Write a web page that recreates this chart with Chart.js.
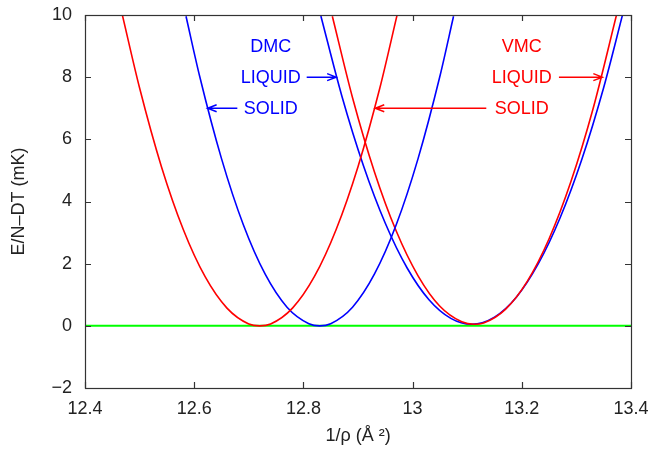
<!DOCTYPE html>
<html>
<head>
<meta charset="utf-8">
<script src="https://cdn.jsdelivr.net/npm/chart.js@4.4.1/dist/chart.umd.min.js"></script>
<style>
  html, body { margin: 0; padding: 0; background: #ffffff; }
  #wrap { width: 653px; height: 449px; position: relative; }
</style>
</head>
<body>
<div id="wrap"><canvas id="c" width="653" height="449"></canvas></div>
<script>
// ---- data ----
const vmcSolidX = [12.468, 12.50, 12.54, 12.58, 12.62, 12.66, 12.70, 12.72, 12.74, 12.78, 12.82, 12.86, 12.90, 12.94, 12.972];
const vmcSolidY = [10.03, 7.65, 5.12, 3.10, 1.58, 0.57, 0.06, 0.00, 0.06, 0.57, 1.58, 3.10, 5.12, 7.65, 10.03];

const dmcSolidX = [12.585, 12.61, 12.65, 12.69, 12.73, 12.77, 12.81, 12.83, 12.85, 12.89, 12.93, 12.97, 13.01, 13.05, 13.075];
const dmcSolidY = [9.96, 8.03, 5.38, 3.25, 1.66, 0.60, 0.07, 0.00, 0.07, 0.60, 1.66, 3.25, 5.38, 8.03, 9.96];

const vmcLiquidX = [12.853, 12.89, 12.93, 12.97, 13.01, 13.05, 13.09, 13.113, 13.13, 13.17, 13.21, 13.25, 13.29, 13.33, 13.375];
const vmcLiquidY = [9.96, 7.34, 4.96, 3.05, 1.61, 0.63, 0.13, 0.05, 0.09, 0.53, 1.43, 2.80, 4.64, 6.95, 10.11];

const dmcLiquidX = [12.832, 12.87, 12.91, 12.95, 12.99, 13.03, 13.07, 13.108, 13.15, 13.19, 13.23, 13.27, 13.31, 13.35, 13.385];
const dmcLiquidY = [9.97, 7.42, 5.15, 3.30, 1.86, 0.84, 0.24, 0.05, 0.28, 0.92, 1.99, 3.47, 5.36, 7.67, 10.04];

const zeroLineX = [12.4, 13.4];
const zeroLineY = [0, 0];

const xTickValues = [12.4, 12.6, 12.8, 13.0, 13.2, 13.4];
const yTickValues = [-2, 0, 2, 4, 6, 8, 10];

const labelTexts = ['DMC', 'LIQUID', 'SOLID', 'VMC', 'LIQUID', 'SOLID'];
const labelX = [12.74, 12.74, 12.74, 13.2, 13.2, 13.2];
const labelY = [9, 8, 7, 9, 8, 7];

const arrowFromX = [12.806, 12.679, 13.268, 13.135];
const arrowToX   = [12.860, 12.6246, 13.3475, 12.9316];
const arrowY     = [8, 7, 8, 7];

// ---- styling ----
const RED = '#ff0000', BLUE = '#0000ff', GREEN = '#00ff00';
const labelColors = [BLUE, BLUE, BLUE, RED, RED, RED];
const arrowColors = [BLUE, BLUE, RED, RED];
const FONT = '"Liberation Sans", Arial, Helvetica, sans-serif';

function pts(xs, ys) { return xs.map((x, i) => ({ x: x, y: ys[i] })); }
function lineDs(label, xs, ys, color, w) {
  return {
    label: label, data: pts(xs, ys), borderColor: color, backgroundColor: color,
    borderWidth: w, pointRadius: 0, showLine: true, fill: false,
    cubicInterpolationMode: 'monotone'
  };
}

const framePlugin = {
  id: 'frame',
  afterDatasetsDraw(chart) {
    const { ctx, chartArea: a, scales } = chart;
    const xs = scales.x, ys = scales.y;
    ctx.save();
    ctx.strokeStyle = '#333333';
    ctx.lineWidth = 1.2;
    ctx.strokeRect(a.left + 0.5, a.top + 0.5, a.right - a.left, a.bottom - a.top);
    const L = 6;
    ctx.beginPath();
    xTickValues.forEach(v => {
      const px = Math.round(xs.getPixelForValue(v)) + 0.5;
      ctx.moveTo(px, a.bottom); ctx.lineTo(px, a.bottom - L);
      ctx.moveTo(px, a.top); ctx.lineTo(px, a.top + L);
    });
    yTickValues.forEach(v => {
      const py = Math.round(ys.getPixelForValue(v)) + 0.5;
      ctx.moveTo(a.left, py); ctx.lineTo(a.left + L, py);
      ctx.moveTo(a.right, py); ctx.lineTo(a.right - L, py);
    });
    ctx.stroke();

    // labels
    ctx.font = '18px ' + FONT;
    ctx.textAlign = 'center';
    ctx.textBaseline = 'middle';
    labelTexts.forEach((t, i) => {
      ctx.fillStyle = labelColors[i];
      ctx.fillText(t, xs.getPixelForValue(labelX[i]), ys.getPixelForValue(labelY[i]) + 1);
    });
    // arrows
    ctx.lineWidth = 1.5;
    arrowFromX.forEach((x0, i) => {
      const px0 = xs.getPixelForValue(x0), px1 = xs.getPixelForValue(arrowToX[i]);
      const py = ys.getPixelForValue(arrowY[i]);
      const dir = Math.sign(px1 - px0);
      ctx.strokeStyle = arrowColors[i];
      ctx.beginPath();
      ctx.moveTo(px0, py); ctx.lineTo(px1, py);
      ctx.moveTo(px1 - dir * 9, py - 3.5); ctx.lineTo(px1, py); ctx.lineTo(px1 - dir * 9, py + 3.5);
      ctx.stroke();
    });
    ctx.restore();
  }
};

const fmt = v => {
  const s = String(Number(Number(v).toFixed(1)));
  return s.replace('-', '\u2212');
};
const noPad = s => { s.paddingTop = 0; s.paddingBottom = 0; s.paddingLeft = 0; s.paddingRight = 0; };

new Chart(document.getElementById('c'), {
  type: 'scatter',
  data: {
    datasets: [
      lineDs('VMC solid', vmcSolidX, vmcSolidY, RED, 1.6),
      lineDs('DMC solid', dmcSolidX, dmcSolidY, BLUE, 1.6),
      lineDs('VMC liquid', vmcLiquidX, vmcLiquidY, RED, 1.6),
      lineDs('DMC liquid', dmcLiquidX, dmcLiquidY, BLUE, 1.6),
      lineDs('zero', zeroLineX, zeroLineY, GREEN, 2)
    ]
  },
  options: {
    responsive: false,
    animation: false,
    devicePixelRatio: 1,
    layout: { padding: { top: 15, right: 22, left: 0, bottom: 0 } },
    plugins: { legend: { display: false }, tooltip: { enabled: false } },
    scales: {
      x: {
        type: 'linear', min: 12.4, max: 13.4,
        afterBuildTicks: s => { s.ticks = xTickValues.map(v => ({ value: v })); },
        afterFit: s => { s.height = 61; noPad(s); },
        grid: { display: false, drawTicks: false },
        border: { display: false },
        ticks: { color: '#222', font: { family: FONT, size: 18 }, padding: 10, callback: fmt, maxRotation: 0, autoSkip: false },
        title: { display: true, text: '1/\u03c1 (\u00c5 \u00b2)', color: '#222', font: { family: FONT, size: 18 }, padding: { top: 0, bottom: 2 } }
      },
      y: {
        type: 'linear', min: -2, max: 10,
        afterBuildTicks: s => { s.ticks = yTickValues.map(v => ({ value: v })); },
        afterFit: s => { s.width = 85; noPad(s); },
        grid: { display: false, drawTicks: false },
        border: { display: false },
        ticks: { color: '#222', font: { family: FONT, size: 18 }, padding: 13, callback: fmt, autoSkip: false },
        title: { display: true, text: 'E/N\u2013DT (mK)', color: '#222', font: { family: FONT, size: 18 }, padding: { top: 8, bottom: 0 } }
      }
    }
  },
  plugins: [framePlugin]
});
</script>
</body>
</html>
